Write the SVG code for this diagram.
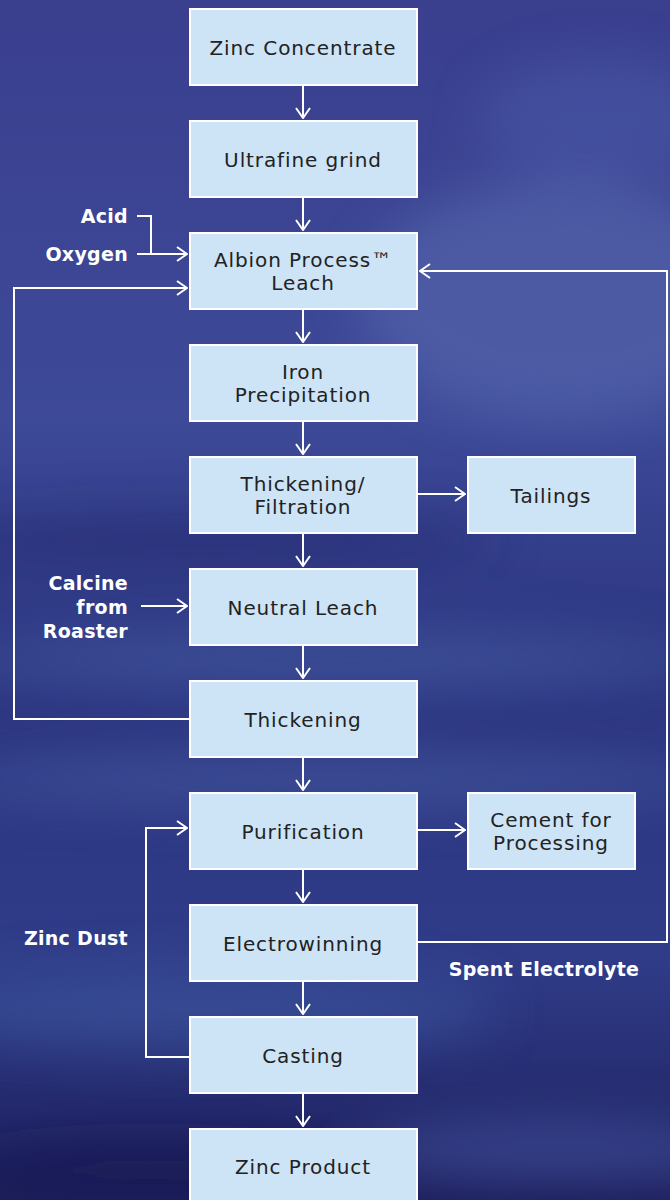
<svg xmlns="http://www.w3.org/2000/svg" width="670" height="1200" viewBox="0 0 670 1200">
<style>
.box rect{fill:#cde3f6;stroke:#ffffff;stroke-width:2}
.box text{font-family:"DejaVu Sans","Noto Sans","Liberation Sans",sans-serif;font-size:20px;letter-spacing:0.9px;fill:#222;text-anchor:middle}
.lbl{font-family:"DejaVu Sans","Noto Sans","Liberation Sans",sans-serif;font-size:19px;letter-spacing:0.3px;font-weight:700;fill:#fff}
.c path{fill:none;stroke:#fff;stroke-width:2}
</style>
<defs>
<linearGradient id="bg" x1="0" y1="0" x2="0" y2="1">
<stop offset="0" stop-color="#3a3f8e"/>
<stop offset="0.35" stop-color="#3d4a98"/>
<stop offset="0.55" stop-color="#2c3580"/>
<stop offset="0.8" stop-color="#303c88"/>
<stop offset="1" stop-color="#1d1f5c"/>
</linearGradient>
<filter id="blur" x="-50%" y="-50%" width="200%" height="200%"><feGaussianBlur stdDeviation="25"/></filter>
<marker id="ah" viewBox="0 0 12 16" refX="11" refY="8" markerWidth="12" markerHeight="16" markerUnits="userSpaceOnUse" orient="auto">
<path d="M1,1 L11,8 L1,15" fill="none" stroke="#fff" stroke-width="2"/>
</marker>
</defs>
<rect width="670" height="1200" fill="url(#bg)"/>
<g filter="url(#blur)" opacity="0.55">
<ellipse cx="560" cy="300" rx="200" ry="120" fill="#5a6ab0"/>
<ellipse cx="600" cy="120" rx="120" ry="60" fill="#4a5aa8"/>
<ellipse cx="330" cy="660" rx="380" ry="30" fill="#4a62a8"/>
<ellipse cx="330" cy="780" rx="380" ry="25" fill="#4860a6"/>
<ellipse cx="200" cy="1010" rx="300" ry="40" fill="#3e5aa2"/>
<ellipse cx="560" cy="1150" rx="200" ry="30" fill="#4a5aa8"/>
<ellipse cx="150" cy="1170" rx="200" ry="30" fill="#151650"/>
<ellipse cx="200" cy="540" rx="300" ry="25" fill="#23286a"/>
</g>
<g class="c">
<path d="M303,86 V118" marker-end="url(#ah)"/>
<path d="M303,198 V230" marker-end="url(#ah)"/>
<path d="M303,310 V342" marker-end="url(#ah)"/>
<path d="M303,422 V454" marker-end="url(#ah)"/>
<path d="M303,534 V566" marker-end="url(#ah)"/>
<path d="M303,646 V678" marker-end="url(#ah)"/>
<path d="M303,758 V790" marker-end="url(#ah)"/>
<path d="M303,870 V902" marker-end="url(#ah)"/>
<path d="M303,982 V1014" marker-end="url(#ah)"/>
<path d="M303,1094 V1126" marker-end="url(#ah)"/>
<path d="M137,216 H151 V254"/>
<path d="M137,254 H187" marker-end="url(#ah)"/>
<path d="M190,719 H14 V288 H187" marker-end="url(#ah)"/>
<path d="M418,942 H667 V271 H420" marker-end="url(#ah)"/>
<path d="M141,606 H187" marker-end="url(#ah)"/>
<path d="M418,494 H465" marker-end="url(#ah)"/>
<path d="M418,830 H465" marker-end="url(#ah)"/>
<path d="M190,1057 H146 V828 H187" marker-end="url(#ah)"/>
</g>
<g id="n1" class="box"><rect x="190" y="9" width="227" height="76"/><text x="303" y="55">Zinc Concentrate</text></g>
<g id="n2" class="box"><rect x="190" y="121" width="227" height="76"/><text x="303" y="167">Ultrafine grind</text></g>
<g id="n3" class="box"><rect x="190" y="233" width="227" height="76"/><text x="303" y="267">Albion Process™</text><text x="303" y="290">Leach</text></g>
<g id="n4" class="box"><rect x="190" y="345" width="227" height="76"/><text x="303" y="379">Iron</text><text x="303" y="402">Precipitation</text></g>
<g id="n5" class="box"><rect x="190" y="457" width="227" height="76"/><text x="303" y="491">Thickening/</text><text x="303" y="514">Filtration</text></g>
<g id="n6" class="box"><rect x="190" y="569" width="227" height="76"/><text x="303" y="615">Neutral Leach</text></g>
<g id="n7" class="box"><rect x="190" y="681" width="227" height="76"/><text x="303" y="727">Thickening</text></g>
<g id="n8" class="box"><rect x="190" y="793" width="227" height="76"/><text x="303" y="839">Purification</text></g>
<g id="n9" class="box"><rect x="190" y="905" width="227" height="76"/><text x="303" y="951">Electrowinning</text></g>
<g id="n10" class="box"><rect x="190" y="1017" width="227" height="76"/><text x="303" y="1063">Casting</text></g>
<g id="n11" class="box"><rect x="190" y="1129" width="227" height="80"/><text x="303" y="1174">Zinc Product</text></g>
<g id="n12" class="box"><rect x="468" y="457" width="167" height="76"/><text x="551" y="503">Tailings</text></g>
<g id="n13" class="box"><rect x="468" y="793" width="167" height="76"/><text x="551" y="827">Cement for</text><text x="551" y="850">Processing</text></g>
<g id="labels">
<text class="lbl" x="128" y="223" text-anchor="end">Acid</text>
<text class="lbl" x="128" y="261" text-anchor="end">Oxygen</text>
<text class="lbl" x="128" y="590" text-anchor="end">Calcine</text>
<text class="lbl" x="128" y="614" text-anchor="end">from</text>
<text class="lbl" x="128" y="638" text-anchor="end">Roaster</text>
<text class="lbl" x="128" y="945" text-anchor="end">Zinc Dust</text>
<text class="lbl" x="544" y="976" text-anchor="middle">Spent Electrolyte</text>
</g>
</svg>
